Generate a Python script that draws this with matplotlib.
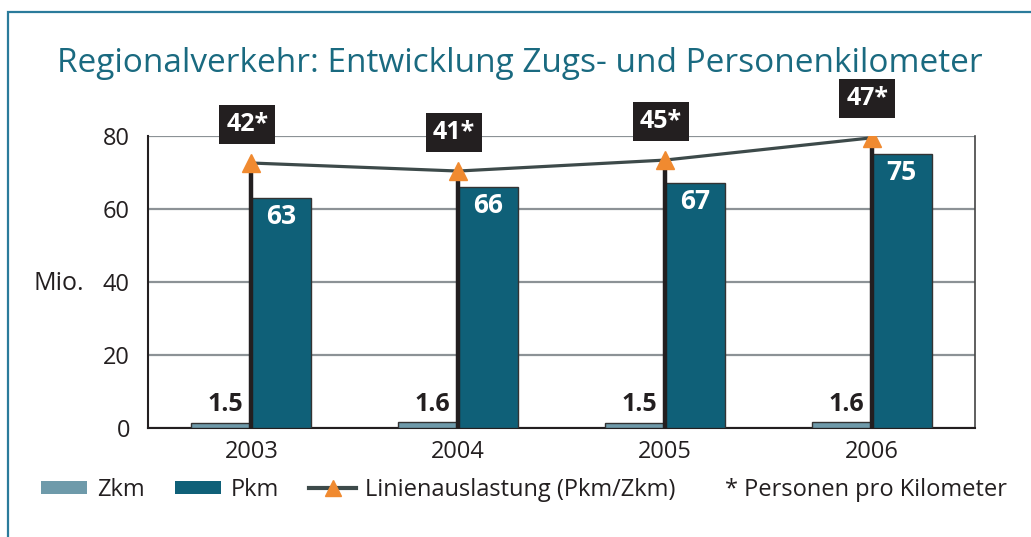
import matplotlib
matplotlib.use('Agg')
import matplotlib.pyplot as plt
import numpy as np
from matplotlib.patches import Rectangle, Patch
from matplotlib.lines import Line2D

plt.rcParams['font.family'] = ['Open Sans', 'DejaVu Sans']

# Daten
jahre = ['2003', '2004', '2005', '2006']
zkm = [1.5, 1.6, 1.5, 1.6]
pkm = [63, 66, 67, 75]
auslastung = [42, 41, 45, 47]
linie_hoehe = [72.6, 70.4, 73.4, 79.5]

teal = '#0f6078'
hell = '#6e9aaa'
dunkel = '#231f20'
orange = '#f08a30'
grau = '#8c9296'

fig = plt.figure(figsize=(10.31, 5.37), dpi=100)
ax = fig.add_axes([148/1031, 1-428/537, 827/1031, 292/537])

x = np.arange(len(jahre))
w = 0.29
ax.bar(x - w/2, zkm, w, color=hell, edgecolor='#333333', linewidth=1, zorder=3)
ax.bar(x + w/2, pkm, w, color=teal, edgecolor='#333333', linewidth=1, zorder=3)

# senkrechte Linien bis zu den Dreiecken
ax.vlines(x, 0, linie_hoehe, color=dunkel, linewidth=3.2, zorder=4)
ax.plot(x, linie_hoehe, color='#3d4a4a', linewidth=2.3, zorder=5)
ax.plot(x, linie_hoehe, linestyle='none', marker='^', markersize=13,
        color=orange, zorder=6)

for i in range(len(jahre)):
    ax.annotate(f'{auslastung[i]}*', (x[i], linie_hoehe[i]), xytext=(-3, 28),
                textcoords='offset points', ha='center', va='center',
                fontsize=18, fontweight='bold', color='white', zorder=7,
                bbox=dict(boxstyle='square,pad=0.28', fc=dunkel, ec='none'))
    ax.annotate(str(pkm[i]), (x[i] + w/2, pkm[i]), xytext=(0, -13),
                textcoords='offset points', ha='center', va='center',
                fontsize=19, fontweight='bold', color='white', zorder=7)
    ax.annotate(f'{zkm[i]:.1f}', (x[i] - w/2, zkm[i]), xytext=(3, 4),
                textcoords='offset points', ha='center', va='bottom',
                fontsize=18, fontweight='bold', color=dunkel, zorder=7)

ax.set_xlim(-0.5, 3.5)
ax.set_ylim(0, 80)
ax.set_yticks([0, 20, 40, 60, 80])
ax.set_xticks(x)
ax.set_xticklabels(jahre)
ax.tick_params(axis='y', length=0, pad=13, labelsize=17, labelcolor=dunkel)
ax.tick_params(axis='x', length=0, pad=9, labelsize=17, labelcolor=dunkel)
ax.yaxis.grid(True, color=grau, linewidth=1.6, zorder=0)
ax.set_axisbelow(True)
ax.spines['top'].set_visible(False)
for s in ['left', 'bottom']:
    ax.spines[s].set_color(dunkel)
    ax.spines[s].set_linewidth(1.5)
ax.spines['right'].set_color('#444444')
ax.spines['right'].set_linewidth(1.2)

fig.text(33/1031, 1-283/537, 'Mio.', fontsize=18, color=dunkel, va='center', ha='left')

fig.text(0.504, 1-63/537, 'Regionalverkehr: Entwicklung Zugs- und Personenkilometer',
         fontsize=24, color='#1a6a80', ha='center', va='center')

# Legende
handles = [Patch(facecolor=hell, edgecolor='none'),
           Patch(facecolor=teal, edgecolor='none'),
           Line2D([0], [0], color='#3d4a4a', linewidth=3, marker='^',
                  markersize=11, markerfacecolor=orange, markeredgecolor=orange)]
fig.legend(handles, ['Zkm', 'Pkm', 'Linienauslastung (Pkm/Zkm)'], ncol=3,
           loc='center left', bbox_to_anchor=(20/1031, 1-490/537), frameon=False,
           fontsize=17, handlelength=1.95, handleheight=0.5, handletextpad=0.4,
           columnspacing=1.3, labelcolor=dunkel)
fig.text(725/1031, 1-490/537, '* Personen pro Kilometer', fontsize=17,
         color=dunkel, va='center', ha='left')

# Rahmen
fig.patches.append(Rectangle((8/1031, -0.1), 1.2, 1.1 - 12/537, transform=fig.transFigure,
                             fill=False, edgecolor='#2b7b9b', linewidth=1.6))

fig.savefig('out.png', dpi=100)
